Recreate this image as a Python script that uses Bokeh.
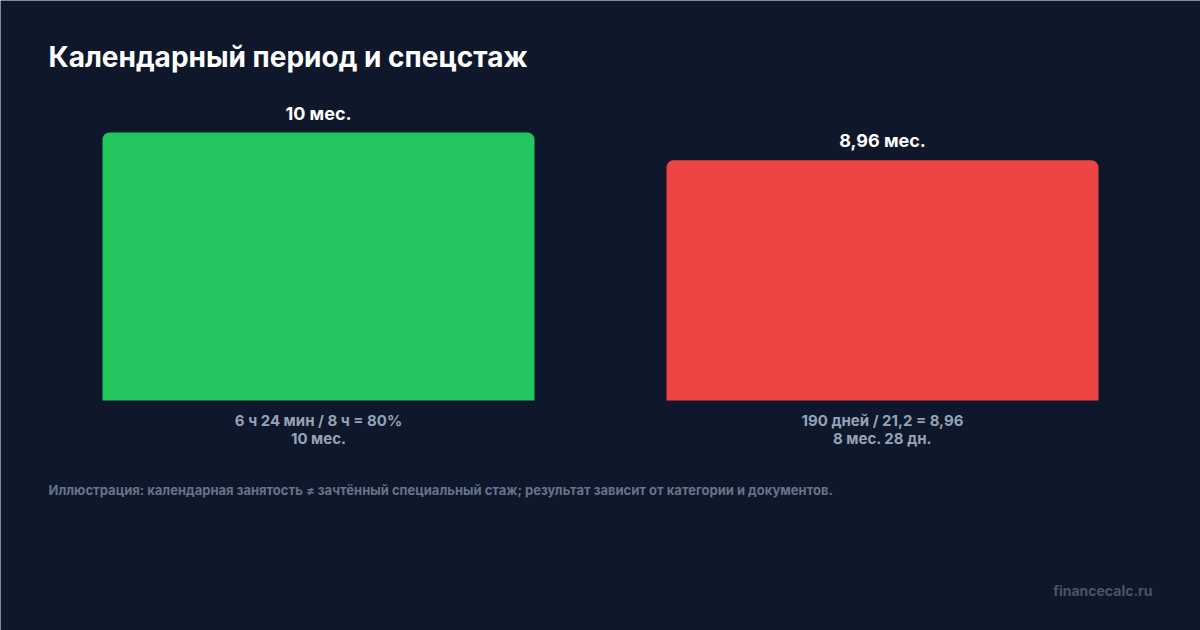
from bokeh.plotting import figure
from bokeh.models import ColumnDataSource, LabelSet, Label, Range1d
from bokeh.core.properties import value
from bokeh.embed import file_html
from bokeh.resources import INLINE

# ---- data ----
positions = [0, 1]
values = [10, 8.96]
value_labels = ["10 мес.", "8,96 мес."]
formula_labels = ["6 ч 24 мин / 8 ч = 80%", "190 дней / 21,2 = 8,96"]
result_labels = ["10 мес.", "8 мес. 28 дн."]
colors = ["#22c55e", "#ef4444"]
title_text = "Календарный период и спецстаж"
note_text = ("Иллюстрация: календарная занятость ≠ зачтённый специальный стаж; "
             "результат зависит от категории и документов.")
brand_text = "financecalc.ru"

BG = "#0f172a"
FONT = "Inter"
W, H = 1200, 630
px_per_cat = 564
cx0 = 318
px_per_unit = 26.8
base_y = 400

p = figure(width=W, height=H, output_backend="svg", toolbar_location=None,
           x_range=Range1d(-cx0 / px_per_cat, (W - cx0) / px_per_cat),
           y_range=Range1d(-(H - base_y) / px_per_unit, base_y / px_per_unit),
           min_border=0, background_fill_color=BG, border_fill_color=BG,
           outline_line_color=None)
p.axis.visible = False
p.grid.visible = False

src = ColumnDataSource(dict(x=positions, top=values, color=colors,
                            vlab=value_labels, flab=formula_labels,
                            rlab=result_labels, zero=[0, 0]))

p.vbar(x="x", top="top", bottom=0, width=432 / px_per_cat, source=src,
       fill_color="color", line_color=None, border_radius=(7, 7, 0, 0))

common = dict(source=src, text_align="center", text_baseline="alphabetic",
              text_font=value(FONT), text_font_style="bold")
p.add_layout(LabelSet(x="x", y="top", text="vlab", y_offset=13,
                      text_font_size="18px", text_color="#ffffff", **common))
p.add_layout(LabelSet(x="x", y="zero", text="flab", y_offset=-25,
                      text_font_size="15px", text_color="#94a3b8", **common))
p.add_layout(LabelSet(x="x", y="zero", text="rlab", y_offset=-43,
                      text_font_size="15px", text_color="#94a3b8", **common))

p.add_layout(Label(x=48, y=H - 56, x_units="screen", y_units="screen",
                   text=title_text, text_font=FONT, text_font_style="bold",
                   text_font_size="28px", text_color="#ffffff",
                   text_baseline="alphabetic"))
p.add_layout(Label(x=48, y=H - 489, x_units="screen", y_units="screen",
                   text=note_text, text_font=FONT, text_font_style="bold",
                   text_font_size="13px", text_color="#64748b",
                   text_baseline="alphabetic"))
p.add_layout(Label(x=1152, y=H - 590, x_units="screen", y_units="screen",
                   text=brand_text, text_font=FONT, text_font_style="bold",
                   text_font_size="14px", text_color="#475569",
                   text_align="right", text_baseline="alphabetic"))

html = file_html(p, INLINE)
html = html.replace("<body>", '<body style="background:%s">' % BG, 1)
open("out.html", "w").write(html)
